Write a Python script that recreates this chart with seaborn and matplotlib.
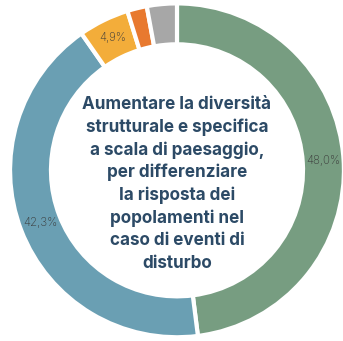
import matplotlib
matplotlib.use("Agg")
import matplotlib.pyplot as plt
import seaborn as sns
import numpy as np

# dati
categorie = ["A", "B", "C", "D", "E"]
valori = [48.0, 42.3, 4.9, 1.9, 2.9]
etichette = ["48,0%", "42,3%", "4,9%", "", ""]
colori = ["#779d81", "#6a9fb3", "#f3ad3a", "#e8792f", "#a7a7a7"]
titolo = ("Aumentare la diversità\nstrutturale e specifica\na scala di paesaggio,\n"
          "per differenziare\nla risposta dei\npopolamenti nel\ncaso di eventi di\ndisturbo")

sns.set_theme(style="white")
plt.rcParams['font.family'] = ['Inter', 'DejaVu Sans']

fig = plt.figure(figsize=(3.43, 3.41), dpi=100)
ax = fig.add_axes([0.029, 0.011, 0.974, 0.979])

wedges, testi = ax.pie(
    valori,
    colors=colori,
    startangle=90,
    counterclock=False,
    radius=1,
    wedgeprops=dict(width=0.245, edgecolor="white", linewidth=3),
)

# etichette percentuali dentro l'anello
for w, lab in zip(wedges, etichette):
    if not lab:
        continue
    ang = np.deg2rad((w.theta1 + w.theta2) / 2)
    r = 0.88
    ax.text(r * np.cos(ang), r * np.sin(ang), lab, ha="center", va="center",
            fontsize=8.3, color="#3a3a3a", fontweight="light")

ax.text(0, -0.08, titolo, ha="center", va="center", fontsize=12.3,
        fontweight="bold", color="#2c4a66", linespacing=1.4)

ax.set_xlim(-1, 1)
ax.set_ylim(-1, 1)
ax.set_aspect("equal")
ax.axis("off")

fig.savefig("out.png", dpi=100)
